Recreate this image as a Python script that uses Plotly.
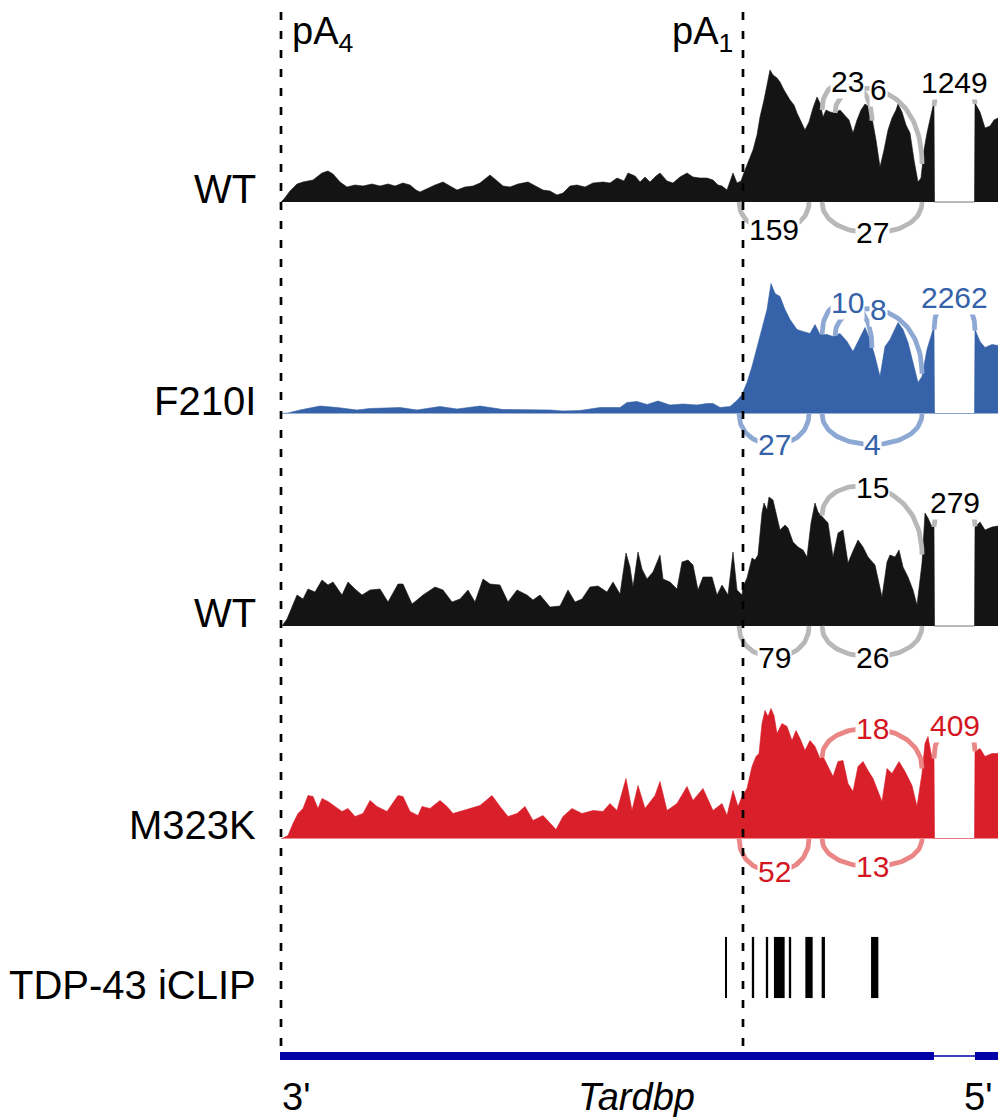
import plotly.graph_objects as go

W, H = 998, 1117

# ---------------------------------------------------------------------------
# Read coverage (position relative to pA4, depth) for each library
# ---------------------------------------------------------------------------
WT_A_COV = [
    (0, 0), (3, 3), (9, 11), (16, 18), (22, 20), (32, 22), (41, 29), (47, 31), (52, 28),
    (59, 20), (66, 15), (74, 17), (82, 16), (91, 18), (99, 16), (107, 18), (114, 16),
    (122, 19), (129, 17), (135, 12), (139, 10), (147, 14), (154, 17), (162, 20), (169, 16),
    (176, 12), (184, 15), (192, 16), (199, 19), (209, 27), (215, 22), (222, 16), (229, 15),
    (237, 18), (247, 20), (254, 16), (262, 12), (269, 11), (276, 7), (282, 9), (289, 16),
    (296, 17), (304, 15), (312, 19), (322, 20), (329, 19), (336, 24), (343, 21), (347, 29),
    (354, 26), (359, 20), (364, 25), (369, 20), (375, 26), (379, 29), (386, 21), (392, 19),
    (399, 25), (406, 29), (412, 25), (419, 24), (426, 24), (432, 22), (437, 17), (441, 16),
    (446, 12), (450, 24), (452, 29), (456, 19), (460, 21), (464, 32), (468, 42), (472, 52),
    (476, 67), (479, 85), (483, 102), (487, 122), (489, 132), (492, 127), (496, 124),
    (499, 120), (503, 112), (509, 102), (513, 97), (516, 89), (520, 80), (524, 72), (528, 80),
    (532, 94), (536, 105), (539, 99), (542, 85), (545, 92), (549, 90), (554, 89), (559, 92),
    (564, 87), (568, 82), (572, 69), (576, 82), (580, 92), (584, 98), (587, 96), (591, 84),
    (595, 62), (599, 35), (603, 52), (607, 72), (611, 84), (615, 92), (617, 98), (621, 90),
    (625, 77), (629, 69), (633, 42), (637, 20), (640, 24), (643, 52), (646, 69), (649, 84),
    (652, 96), (653, 96), (653.5, 0), (693.5, 0), (694, 99), (699, 90), (704, 74), (709, 76),
    (713, 82), (717, 84),
]

F210I_COV = [
    (0, 0), (7, 0.5), (19, 3.5), (39, 7.5), (56, 6), (76, 3.5), (89, 5), (119, 6), (136, 3.5),
    (159, 7), (176, 4.5), (199, 7.5), (222, 4), (242, 4), (269, 3.5), (282, 2.5), (299, 3),
    (319, 6), (339, 6), (346, 11), (356, 12), (366, 9), (377, 12.5), (389, 8.5), (402, 9.5),
    (416, 8.5), (419, 9), (426, 10), (432, 10), (439, 6), (449, 7), (456, 13), (461, 19),
    (466, 31), (471, 47), (476, 67), (481, 87), (486, 104), (490, 130), (494, 120), (499, 117),
    (504, 104), (509, 94), (516, 84), (522, 82), (529, 80), (534, 89), (539, 79), (546, 79),
    (552, 77), (559, 80), (566, 72), (572, 62), (579, 77), (584, 86), (589, 74), (594, 57),
    (599, 37), (604, 67), (609, 74), (617, 91), (622, 84), (627, 71), (632, 51), (637, 31),
    (641, 37), (646, 64), (652, 84), (653, 84), (653.5, 0), (693.5, 0), (694, 84), (699, 72),
    (704, 66), (711, 69), (717, 68),
]

WT_B_COV = [
    (0, 0), (1, 0), (6, 7), (11, 19), (16, 31), (22, 27), (27, 37), (34, 34), (41, 46),
    (47, 41), (52, 44), (61, 31), (67, 44), (74, 37), (81, 31), (89, 36), (99, 37), (107, 24),
    (117, 42), (122, 42), (131, 22), (136, 26), (142, 31), (154, 39), (162, 36), (171, 24),
    (179, 27), (187, 36), (194, 24), (202, 47), (209, 42), (219, 41), (227, 24), (236, 36),
    (246, 31), (252, 26), (259, 31), (269, 19), (279, 20), (287, 36), (294, 24), (301, 27),
    (309, 39), (317, 40), (326, 34), (332, 44), (339, 32), (345, 73), (349, 59), (352, 39),
    (357, 74), (361, 57), (366, 47), (372, 54), (379, 71), (382, 47), (389, 44), (396, 37),
    (401, 64), (407, 66), (412, 61), (417, 36), (422, 49), (431, 49), (436, 31), (441, 41),
    (447, 31), (452, 74), (456, 36), (461, 31), (462, 39), (466, 48), (471, 68), (474, 66),
    (477, 71), (481, 113), (483, 123), (486, 116), (488, 129), (492, 126), (495, 113),
    (499, 96), (504, 101), (507, 98), (512, 84), (517, 79), (522, 76), (526, 69), (530, 103),
    (534, 123), (537, 114), (542, 109), (547, 103), (552, 69), (557, 93), (562, 96), (567, 63),
    (572, 75), (577, 86), (582, 79), (587, 69), (594, 61), (601, 29), (606, 64), (609, 71),
    (614, 69), (618, 76), (622, 59), (627, 49), (632, 36), (636, 21), (641, 63), (644, 113),
    (647, 108), (651, 99), (653, 99), (653.5, 0), (693.5, 0), (694, 99), (699, 104), (704, 96),
    (711, 99), (717, 100),
]

M323K_COV = [
    (0, 0), (1, 0), (7, 3), (12, 15), (17, 25), (22, 30), (27, 43), (32, 42), (37, 30),
    (41, 40), (47, 37), (54, 32), (61, 27), (67, 30), (74, 22), (82, 25), (89, 38), (96, 32),
    (106, 27), (117, 43), (122, 42), (129, 27), (137, 23), (141, 32), (149, 30), (159, 38),
    (166, 32), (172, 25), (181, 28), (189, 30), (199, 33), (211, 43), (219, 32), (227, 22),
    (236, 25), (244, 32), (252, 18), (262, 23), (275, 9), (282, 22), (291, 30), (301, 25),
    (312, 28), (322, 27), (329, 35), (336, 28), (345, 60), (351, 28), (357, 53), (364, 30),
    (374, 43), (379, 57), (386, 28), (396, 35), (406, 52), (412, 38), (422, 50), (432, 28),
    (441, 35), (446, 23), (452, 48), (457, 32), (461, 42), (466, 50), (471, 72), (475, 82),
    (478, 85), (481, 115), (484, 128), (487, 122), (490, 130), (493, 123), (496, 105),
    (501, 115), (506, 112), (511, 98), (515, 108), (519, 100), (524, 88), (529, 98), (534, 92),
    (539, 80), (542, 82), (547, 72), (552, 62), (557, 77), (562, 78), (567, 55), (572, 47),
    (577, 72), (582, 77), (587, 68), (592, 60), (601, 37), (606, 70), (611, 65), (618, 77),
    (624, 67), (631, 53), (636, 32), (641, 65), (644, 95), (647, 102), (651, 80), (653, 80),
    (653.5, 0), (693.5, 0), (694, 87), (699, 90), (704, 82), (711, 85), (717, 85),
]

TRACK_NAMES = ["WT", "F210I", "WT", "M323K"]
TRACK_COVERAGE = [WT_A_COV, F210I_COV, WT_B_COV, M323K_COV]

# Splice junctions (donor, acceptor) and read counts per library
JUNCTIONS = {
    "a": (458, 528),
    "b": (541, 641),
    "c": (541, 591),
    "d": (554, 641),
    "e": (653, 694),
    "f": (541, 641),
}
JUNCTION_COUNTS = [
    {"a": 159, "b": 27, "c": 23, "d": 6, "e": 1249},
    {"a": 27, "b": 4, "c": 10, "d": 8, "e": 2262},
    {"a": 79, "b": 26, "f": 15, "e": 279},
    {"a": 52, "b": 13, "f": 18, "e": 409},
]

# TDP-43 iCLIP crosslink clusters (centre, span)
ICLIP_POS = [445, 472, 486, 498.3, 509, 528, 542.3, 593.7]
ICLIP_SPAN = [2, 2.3, 2.3, 10.7, 2.3, 7.3, 3.3, 7.3]

# Tardbp gene model (3' end at pA4)
EXONS = [(-1, 653), (694, 760)]
INTRONS = [(653, 694)]

PA_SITES = [("pA<sub>4</sub>", 0), ("pA<sub>1</sub>", 462)]

# ---------------------------------------------------------------------------
# Styling
# ---------------------------------------------------------------------------
FONT = "Liberation Sans, Arial, sans-serif"
FILL_COLORS = ["#141414", "#3562a8", "#141414", "#d81f2a"]
ARC_COLORS = ["#b8b8b8", "#8ea8d4", "#b8b8b8", "#ea8686"]
LABEL_COLORS = ["#000000", "#3562a8", "#000000", "#d3161f"]
BASELINES = [202, 413.5, 626, 838.5]      # track baselines (page pixels)
LABEL_CENTERS = [189, 401, 613, 825]
# arc apex (in depth units, negative = drawn below the track)
ARC_APEX = [
    {"a": -28, "b": -31, "c": 120, "d": 112, "e": 119},
    {"a": -31, "b": -31, "c": 111, "d": 104, "e": 116},
    {"a": -31, "b": -31, "f": 139, "e": 124},
    {"a": -33, "b": -28, "f": 110, "e": 113},
]


def ydom(top_px, bottom_px):
    return [1 - bottom_px / H, 1 - top_px / H]


def interp(cov, x):
    xs = [p for p, _ in cov]
    ys = [v for _, v in cov]
    for i in range(len(xs) - 1):
        if xs[i] <= x <= xs[i + 1]:
            if xs[i + 1] == xs[i]:
                return ys[i]
            t = (x - xs[i]) / (xs[i + 1] - xs[i])
            return ys[i] + t * (ys[i + 1] - ys[i])
    return ys[-1]


def bezier_arc(x0, x1, y0, y1, apex, n=60):
    c = (apex - (y0 + y1) / 8) / 0.75
    xs, ys = [], []
    for k in range(n + 1):
        t = k / n
        u = 1 - t
        xs.append(u**3 * x0 + 3 * u**2 * t * x0 + 3 * u * t**2 * x1 + t**3 * x1)
        ys.append(u**3 * y0 + 3 * u**2 * t * c + 3 * u * t**2 * c + t**3 * y1)
    return xs, ys


fig = go.Figure()
layout_axes = {}
annotations = []

for i, name in enumerate(TRACK_NAMES):
    cov = TRACK_COVERAGE[i]
    yref = "y" if i == 0 else f"y{i + 1}"
    axkey = "yaxis" if i == 0 else f"yaxis{i + 1}"
    b = BASELINES[i]
    layout_axes[axkey] = dict(domain=ydom(b - 165, b + 55), range=[-55, 165],
                              visible=False, fixedrange=True, anchor="x")

    fig.add_trace(go.Scatter(
        x=[p for p, _ in cov], y=[v for _, v in cov], mode="lines",
        fill="tozeroy", fillcolor=FILL_COLORS[i],
        line=dict(color=FILL_COLORS[i], width=0.6),
        yaxis=yref, hoverinfo="skip"))

    for key, count in JUNCTION_COUNTS[i].items():
        x0, x1 = JUNCTIONS[key]
        apex = ARC_APEX[i][key]
        if apex > 0:
            # arcs above the track leave from the exon coverage on each side
            y0, y1 = interp(cov, x0 - 0.5), interp(cov, x1 + 0.5)
        else:
            y0 = y1 = 0
        ax, ay = bezier_arc(x0, x1, y0, y1, apex)
        fig.add_trace(go.Scatter(
            x=ax, y=ay, mode="lines",
            line=dict(color=ARC_COLORS[i], width=4.8),
            yaxis=yref, hoverinfo="skip"))
        annotations.append(dict(
            x=(x0 + x1) / 2, y=apex, xref="x", yref=yref, text=str(count),
            showarrow=False, bgcolor="white", borderpad=0,
            font=dict(family=FONT, size=30, color=LABEL_COLORS[i]),
            xanchor="center", yanchor="middle"))

    annotations.append(dict(
        x=258 / W, y=1 - LABEL_CENTERS[i] / H, xref="paper", yref="paper",
        text=name, showarrow=False, xanchor="right", yanchor="middle",
        font=dict(family=FONT, size=40, color="black")))

# iCLIP track
layout_axes["yaxis5"] = dict(domain=ydom(936.7, 998.3), range=[0, 1], visible=False,
                             fixedrange=True, anchor="x")
fig.add_trace(go.Bar(x=ICLIP_POS, y=[1] * len(ICLIP_POS), width=ICLIP_SPAN,
                     marker=dict(color="black", line=dict(width=0)),
                     yaxis="y5", hoverinfo="skip"))
annotations.append(dict(
    x=258 / W, y=1 - 985 / H, xref="paper", yref="paper", text="TDP-43 iCLIP",
    showarrow=False, xanchor="right", yanchor="middle",
    font=dict(family=FONT, size=40, color="black")))

# gene model
layout_axes["yaxis6"] = dict(domain=ydom(1040, 1072), range=[-16, 16], visible=False,
                             fixedrange=True, anchor="x")
for s, e in EXONS:
    fig.add_trace(go.Scatter(x=[s, e], y=[0, 0], mode="lines",
                             line=dict(color="#0000a8", width=8),
                             yaxis="y6", hoverinfo="skip"))
for s, e in INTRONS:
    fig.add_trace(go.Scatter(x=[s, e], y=[0, 0], mode="lines",
                             line=dict(color="#0000a8", width=1.5),
                             yaxis="y6", hoverinfo="skip"))

# polyadenylation sites
shapes = []
for label, pos in PA_SITES:
    shapes.append(dict(type="line", xref="x", yref="paper", x0=pos, x1=pos,
                       y0=1 - 12 / H, y1=1 - 1052 / H,
                       line=dict(color="black", width=2.7, dash="8px,11px")))
    left = pos == 0
    annotations.append(dict(
        x=pos, y=1 - 34 / H, xref="x", yref="paper", text=label, showarrow=False,
        xanchor="left" if left else "right", yanchor="middle",
        xshift=9 if left else -8,
        font=dict(family=FONT, size=38, color="black")))

# gene orientation and name
annotations += [
    dict(x=280 / W, y=1 - 1097 / H, xref="paper", yref="paper", text="3'",
         showarrow=False, xanchor="left", yanchor="middle",
         font=dict(family=FONT, size=38, color="black")),
    dict(x=636 / W, y=1 - 1097 / H, xref="paper", yref="paper", text="<i>Tardbp</i>",
         showarrow=False, xanchor="center", yanchor="middle",
         font=dict(family=FONT, size=38, color="black")),
    dict(x=962 / W, y=1 - 1097 / H, xref="paper", yref="paper", text="5'",
         showarrow=False, xanchor="left", yanchor="middle",
         font=dict(family=FONT, size=38, color="black")),
]

fig.update_layout(
    width=W, height=H,
    margin=dict(l=0, r=0, t=0, b=0, pad=0),
    paper_bgcolor="white", plot_bgcolor="rgba(0,0,0,0)",
    showlegend=False,
    xaxis=dict(range=[-281, 717], visible=False, fixedrange=True, domain=[0, 1]),
    annotations=annotations, shapes=shapes,
    **layout_axes,
)

fig.write_html("out.html", config={"displayModeBar": False})
